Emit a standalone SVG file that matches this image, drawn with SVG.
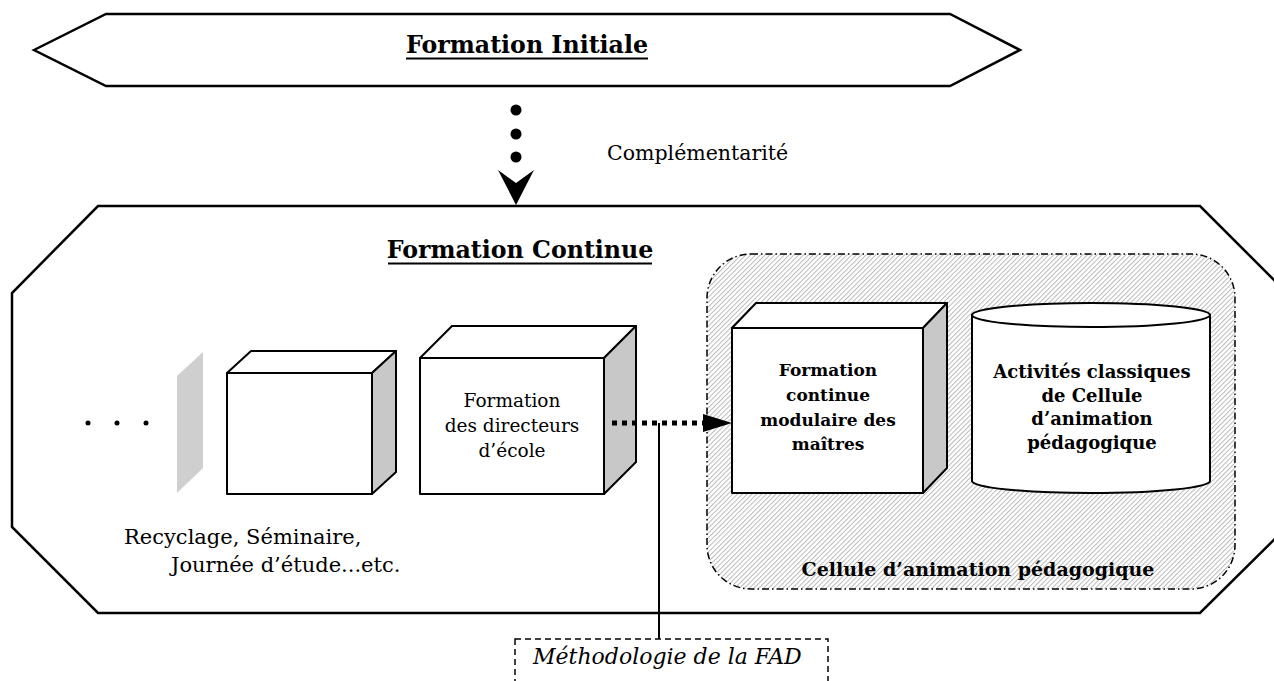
<svg xmlns="http://www.w3.org/2000/svg" width="1274" height="681" viewBox="0 0 1274 681">
  <defs>
    <style>
      .frame { fill: #fff; stroke: #000; stroke-width: 2.5; stroke-linejoin: miter; }
      .face { fill: #fff; stroke: #000; stroke-width: 2; stroke-linejoin: round; }
      .side { fill: #c8c8c8; stroke: #000; stroke-width: 2; stroke-linejoin: round; }
      .txt { font-family: "DejaVu Serif", serif; fill: #000; }
      .title { font-size: 23.7px; font-weight: bold; text-anchor: middle; }
      .reg { font-size: 18.5px; text-anchor: middle; }
      .bold { font-size: 17px; font-weight: bold; text-anchor: middle; }
      .ul { stroke: #000; stroke-width: 2; }
    </style>
    <!-- fine diagonal hatching for the cell background -->
    <pattern id="hatch" width="3.4" height="3.4" patternUnits="userSpaceOnUse" patternTransform="rotate(45)">
      <rect width="3.4" height="3.4" fill="#fff"/>
      <line x1="0.5" y1="0" x2="0.5" y2="3.4" stroke="#b4b4b4" stroke-width="0.9"/>
    </pattern>
  </defs>

  <!-- Formation Initiale banner -->
  <g id="formation-initiale">
    <polygon class="frame" points="34,50 106,14 950,14 1020,50 950,86 106,86"/>
    <text class="txt title" x="527" y="53">Formation Initiale</text>
    <line class="ul" x1="406" y1="58.5" x2="648" y2="58.5"/>
  </g>

  <!-- Formation Continue frame -->
  <g id="formation-continue">
    <polygon class="frame" points="98,206 1200,206 1287,293 1287,527 1200,613 98,613 12,527 12,293"/>
    <text class="txt title" x="520" y="258">Formation Continue</text>
    <line class="ul" x1="388" y1="263.5" x2="652" y2="263.5"/>
  </g>

  <!-- ellipsis before the sequence of modules -->
  <g id="ellipsis">
    <circle cx="88" cy="423" r="2.5"/>
    <circle cx="117" cy="423" r="2.5"/>
    <circle cx="146" cy="423" r="2.5"/>
  </g>

  <!-- faded earlier module -->
  <g id="panel-anterieur">
    <polygon points="203,352 203,468 177,493 177,376" fill="#cfcfcf"/>
  </g>

  <!-- empty module -->
  <g id="module-recyclage">
    <path class="face" d="M227,373 L251,351 H396 L372,373 Z"/>
    <path class="side" d="M372,373 L396,351 V472 L372,494 Z"/>
    <rect class="face" x="227" y="373" width="145" height="121"/>
  </g>

  <g id="legende-recyclage">
    <text class="txt" font-size="21" x="124" y="544">Recyclage, Séminaire,</text>
    <text class="txt" font-size="21" x="171" y="572">Journée d’étude...etc.</text>
  </g>

  <!-- school directors module -->
  <g id="module-directeurs">
    <path class="face" d="M420,358 L452,326 H636 L604,358 Z"/>
    <path class="side" d="M604,358 L636,326 V462 L604,494 Z"/>
    <rect class="face" x="420" y="358" width="184" height="136"/>
    <text class="txt reg" x="512" y="407">Formation</text>
    <text class="txt reg" x="512" y="432">des directeurs</text>
    <text class="txt reg" x="512" y="457">d’école</text>
  </g>

  <!-- pedagogical cell (hatched, dash-dot outline) -->
  <g id="cellule">
    <rect x="707" y="254" width="528" height="335" rx="44" ry="44" fill="url(#hatch)" stroke="#000" stroke-width="1.5" stroke-dasharray="7 3 1.5 3"/>
    <text class="txt" font-size="19" font-weight="bold" text-anchor="middle" x="978" y="576">Cellule d’animation pédagogique</text>
  </g>

  <!-- modular training module -->
  <g id="module-maitres">
    <path class="face" d="M732,328 L756,303 H947 L923,328 Z"/>
    <path class="side" d="M923,328 L947,303 V468 L923,493 Z"/>
    <rect class="face" x="732" y="328" width="191" height="165"/>
    <text class="txt bold" x="828" y="376">Formation</text>
    <text class="txt bold" x="828" y="401">continue</text>
    <text class="txt bold" x="828" y="426">modulaire des</text>
    <text class="txt bold" x="828" y="450">maîtres</text>
  </g>

  <!-- classic activities store -->
  <g id="activites-classiques">
    <path class="face" d="M972,315 V481 A119,12 0 0 0 1210,481 V315 Z"/>
    <ellipse class="face" cx="1091" cy="315" rx="119" ry="12"/>
    <text class="txt" font-size="18" font-weight="bold" text-anchor="middle" x="1092" y="378">Activités classiques</text>
    <text class="txt" font-size="18" font-weight="bold" text-anchor="middle" x="1092" y="402">de Cellule</text>
    <text class="txt" font-size="18" font-weight="bold" text-anchor="middle" x="1092" y="425">d’animation</text>
    <text class="txt" font-size="18" font-weight="bold" text-anchor="middle" x="1092" y="449">pédagogique</text>
  </g>

  <!-- distance-learning methodology tag -->
  <g id="methodologie">
    <rect x="515" y="639" width="313" height="60" fill="#fff" stroke="#000" stroke-width="1.5" stroke-dasharray="6 4"/>
    <text class="txt" font-size="22" font-style="italic" x="533" y="664">Méthodologie de la FAD</text>
  </g>

  <g id="connecteurs">
    <!-- complementarity link -->
    <g id="lien-complementarite">
      <circle cx="516" cy="110" r="5.5"/>
      <circle cx="516" cy="134" r="5.5"/>
      <circle cx="516" cy="157" r="5.5"/>
      <polygon points="498,170 516,183 534,170 516,205"/>
      <text class="txt" font-size="20.5" x="607" y="160">Complémentarité</text>
    </g>
    <!-- directors module to modular training -->
    <g id="lien-directeurs-maitres">
      <line x1="612" y1="423" x2="704" y2="423" stroke="#000" stroke-width="5" stroke-dasharray="5 5"/>
      <polygon points="703,414 732,423 703,432"/>
    </g>
    <!-- methodology attached to the link -->
    <line id="lien-methodologie" x1="659" y1="423" x2="659" y2="639" stroke="#000" stroke-width="2"/>
  </g>
</svg>
